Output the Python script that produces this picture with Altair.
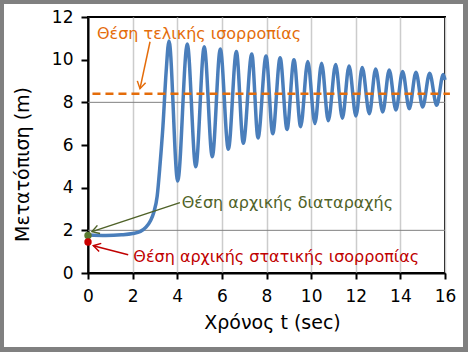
import math
import altair as alt
import pandas as pd

# ---- data ----
time_s = [0.0, 0.8, 1.5, 2.0, 2.35, 2.6, 2.8, 2.95, 3.1, 3.23, 3.36, 3.5, 3.63,
          4.02, 4.45, 4.83, 5.21, 5.57, 5.93, 6.29, 6.65, 6.96, 7.34, 7.62, 7.98,
          8.28, 8.61, 8.92, 9.23, 9.53, 9.85, 10.17, 10.47, 10.77, 11.10, 11.40,
          11.70, 12.01, 12.29, 12.61, 12.89, 13.21, 13.50, 13.80, 14.10, 14.40,
          14.70, 15.00, 15.31, 15.63, 15.92, 16.0]
displacement = [1.78, 1.76, 1.79, 1.85, 1.95, 2.15, 2.45, 2.85, 3.6, 5.1, 6.9, 9.4, 10.88,
                4.31, 10.73, 4.98, 10.61, 5.45, 10.50, 5.80, 10.38, 6.08, 10.27, 6.33, 10.17,
                6.53, 10.09, 6.73, 10.00, 6.86, 9.91, 7.01, 9.83, 7.14, 9.77, 7.25,
                9.70, 7.36, 9.63, 7.47, 9.56, 7.55, 9.52, 7.64, 9.45, 7.70,
                9.41, 7.78, 9.36, 7.86, 9.31, 9.05]

x_ticks = [0, 2, 4, 6, 8, 10, 12, 14, 16]
y_ticks = [0, 2, 4, 6, 8, 10, 12]

ref_lines_y = [2, 8]
final_eq_y = 8.4
final_eq_t = [0.2, 16.22]

dot_t = [0.0, 0.0]
dot_y = [1.76, 1.45]
dot_colors = ["#5a7a32", "#cc0000"]

labels = ["Θέση τελικής ισορροπίας", "Θέση αρχικής διαταραχής",
          "Θέση αρχικής στατικής ισορροπίας"]
label_t = [0.40, 4.20, 2.03]
label_y = [10.97, 3.05, 0.50]
label_colors = ["#e46c0a", "#4f6228", "#c00000"]

arrow_t0 = [2.78, 4.12, 1.80]
arrow_y0 = [10.84, 3.30, 0.86]
arrow_t1 = [2.33, 0.18, 0.24]
arrow_y1 = [8.64, 1.94, 1.28]

# ---- layout ----
W, H = 357, 256
PX_T = W / 16.0
PX_Y = H / 12.0
FONT = "DejaVu Sans"

curve = pd.DataFrame({"t": time_s, "y": displacement})

angles = []
for a, b, c, d in zip(arrow_t0, arrow_y0, arrow_t1, arrow_y1):
    dx = (c - a) * PX_T
    dy = -(d - b) * PX_Y
    angles.append(math.degrees(math.atan2(dx, -dy)) % 360)

arrows = pd.DataFrame({"t": arrow_t0, "y": arrow_y0, "t2": arrow_t1, "y2": arrow_y1,
                       "color": label_colors, "ang": angles})
texts = pd.DataFrame({"t": label_t, "y": label_y, "label": labels, "color": label_colors})
dots = pd.DataFrame({"t": dot_t, "y": dot_y, "color": dot_colors})
hlines = pd.DataFrame({"y": ref_lines_y, "t": [0] * 2, "t2": [16] * 2})
dash = pd.DataFrame({"t": [final_eq_t[0]], "t2": [final_eq_t[1]], "y": [final_eq_y]})

x_scale = alt.Scale(domain=[0, 16], nice=False, zero=False)
y_scale = alt.Scale(domain=[0, 12], nice=False)

x_axis = alt.Axis(values=x_ticks, title="Χρόνος t (sec)", grid=True,
                  gridColor="#cccccc", gridWidth=1.5, labelPadding=9, titlePadding=9,
                  tickSize=6, labelFlush=False, titleX=184)
y_axis = alt.Axis(values=y_ticks, title="Μετατόπιση (m)", grid=False,
                  labelPadding=8, tickSize=7, titleX=-56, titleY=147)

line = alt.Chart(curve).mark_line(color="#4a7ebb", strokeWidth=3.5,
                                  interpolate="monotone").encode(
    x=alt.X("t:Q", scale=x_scale, axis=x_axis),
    y=alt.Y("y:Q", scale=y_scale, axis=y_axis),
)

ref = alt.Chart(hlines).mark_rule(color="#808080", strokeWidth=1).encode(
    x="t:Q", x2="t2:Q", y="y:Q")

dashed = alt.Chart(dash).mark_rule(color="#e46c0a", strokeWidth=2.5,
                                   strokeDash=[8, 5]).encode(
    x="t:Q", x2="t2:Q", y="y:Q")

arrow_lines = alt.Chart(arrows).mark_rule(strokeWidth=1.5).encode(
    x="t:Q", y="y:Q", x2="t2:Q", y2="y2:Q",
    color=alt.Color("color:N", scale=None))

arrow_heads = alt.Chart(arrows).mark_point(
    shape="M -0.6 1 L 0 0 L 0.6 1", filled=False, strokeWidth=1.5, size=200,
    opacity=1).encode(
    x="t2:Q", y="y2:Q",
    angle=alt.Angle("ang:Q", scale=None),
    color=alt.Color("color:N", scale=None))

dot_layer = alt.Chart(dots).mark_circle(size=55, opacity=1).encode(
    x="t:Q", y="y:Q", color=alt.Color("color:N", scale=None))

text_layer = alt.Chart(texts).mark_text(
    align="left", baseline="alphabetic", font=FONT, fontSize=16).encode(
    x="t:Q", y="y:Q", text="label:N", color=alt.Color("color:N", scale=None))

frame = alt.Chart(alt.Data(values=[{}])).mark_rect(
    fill="transparent", stroke="#808080", strokeWidth=10).encode(
    x=alt.value(-89), x2=alt.value(380), y=alt.value(-18), y2=alt.value(335))

chart = alt.layer(ref, line, dashed, arrow_lines, arrow_heads, dot_layer,
                  text_layer, frame).properties(
    width=W, height=H,
    autosize=alt.AutoSizeParams(type="none"),
    padding={"left": 88, "top": 17, "right": 23, "bottom": 79},
    background="white",
).configure_view(stroke="black", strokeWidth=2).configure_axis(
    labelFont=FONT, labelFontSize=17, labelColor="black",
    titleFont=FONT, titleFontSize=19, titleFontWeight="normal", titleColor="black",
    domainColor="black", domainWidth=2, tickColor="black", tickWidth=2,
)

chart.save("out.html", embed_options={"renderer": "svg", "actions": False})
